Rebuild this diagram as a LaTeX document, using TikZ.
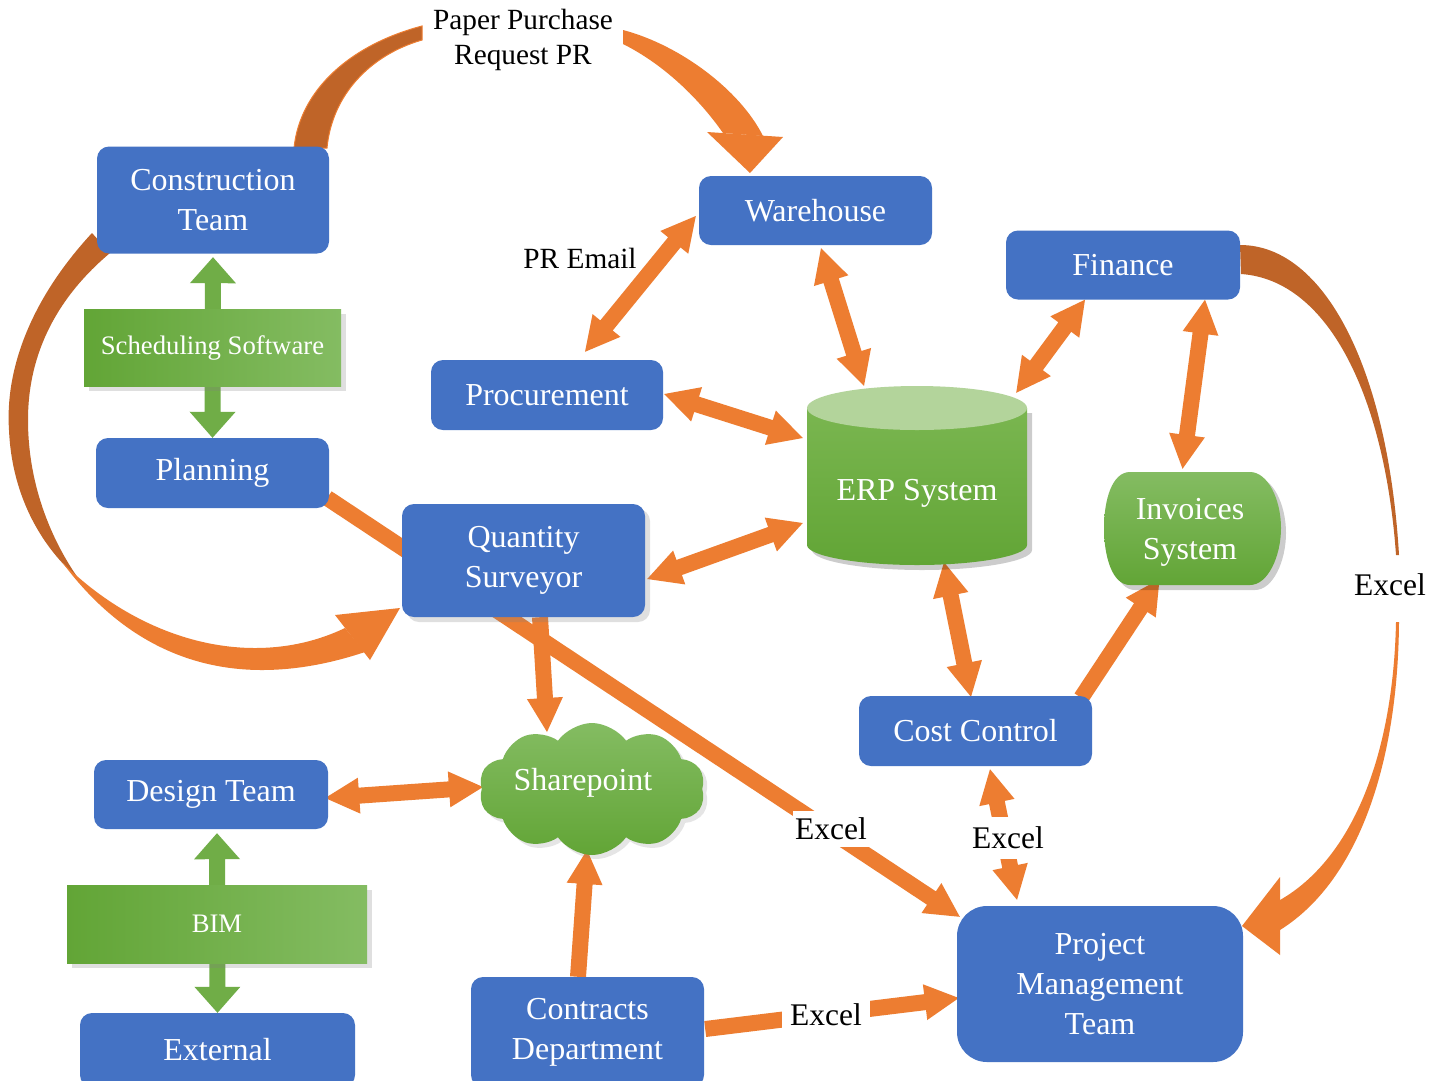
\documentclass[tikz,border=0pt]{standalone}
\usepackage{fontspec}
\setmainfont{Liberation Serif}
\usetikzlibrary{calc,shapes.symbols,shadows}
\definecolor{blu}{HTML}{4472C4}
\definecolor{org}{HTML}{ED7D31}
\definecolor{dorg}{HTML}{BF6428}
\definecolor{gdark}{HTML}{62A536}
\definecolor{glight}{HTML}{84BC62}
\definecolor{gmid}{HTML}{70AD47}
\definecolor{gtop}{HTML}{B3D49B}
\definecolor{gcyl}{HTML}{7AB650}
\pgfdeclarelayer{back}
\pgfdeclarelayer{bg}
\pgfsetlayers{back,bg,main}

\def\aw{8pt}\def\ah{18pt}\def\al{34pt}

\newcommand{\onearrow}[3][org]{%
  \coordinate (tmpB) at ($(#3)!\al!(#2)$);
  \fill[#1] ($(#2)!\aw!90:(#3)$) -- ($(tmpB)!\aw!90:(#3)$) -- ($(tmpB)!\ah!90:(#3)$) -- (#3)
    -- ($(tmpB)!\ah!-90:(#3)$) -- ($(tmpB)!\aw!-90:(#3)$) -- ($(#2)!\aw!-90:(#3)$) -- cycle;}

\newcommand{\twoarrow}[3][org]{%
  \coordinate (tmpA) at ($(#2)!\al!(#3)$);
  \coordinate (tmpB) at ($(#3)!\al!(#2)$);
  \fill[#1] (#2) -- ($(tmpA)!\ah!90:(#3)$) -- ($(tmpA)!\aw!90:(#3)$) -- ($(tmpB)!\aw!90:(#3)$)
    -- ($(tmpB)!\ah!90:(#3)$) -- (#3) -- ($(tmpB)!\ah!-90:(#3)$) -- ($(tmpB)!\aw!-90:(#3)$)
    -- ($(tmpA)!\aw!-90:(#3)$) -- ($(tmpA)!\ah!-90:(#3)$) -- cycle;}

\tikzset{
  box/.style={rectangle, rounded corners=12pt, fill=blu, text=white, align=center,
    inner sep=0pt, font=\fontsize{32}{40}\selectfont},
  gbox/.style={rectangle, left color=gdark, right color=glight, text=white, inner sep=0pt,
    font=\fontsize{26.7}{32}\selectfont,
    drop shadow={shadow xshift=5pt, shadow yshift=-5pt, opacity=0.25}},
  wtext/.style={text=white, align=center, inner sep=0pt, font=\fontsize{32}{40}\selectfont},
  lbl/.style={text=black, align=center, inner sep=2pt, font=\fontsize{31.5}{38}\selectfont},
  slbl/.style={text=black, align=center, inner sep=1pt, font=\fontsize{29.3}{35}\selectfont},
  shad/.style={fill=black, opacity=0.2},
}

\begin{document}
\begin{tikzpicture}[x=1pt, y=-1pt]
\useasboundingbox (0,0) rectangle (1445,1080);
\begin{pgfonlayer}{back}
  \fill[white] (0,0) rectangle (1445,1080);
\end{pgfonlayer}

% ---------- blue boxes ----------
\node[box, minimum width=232pt, minimum height=107pt] (ct) at (213,200) {Construction\\Team};
\node[box, minimum width=233pt, minimum height=69pt] (wh) at (815.5,210.5) {Warehouse};
\node[box, minimum width=234pt, minimum height=69pt] (fin) at (1123,265) {Finance};
\node[box, minimum width=232pt, minimum height=70pt] (proc) at (547,395) {Procurement};
\node[box, minimum width=233pt, minimum height=70pt] (plan) at (212.5,473) {Planning};
\node[box, minimum width=243pt, minimum height=113pt,
      drop shadow={shadow xshift=5pt, shadow yshift=-5pt, opacity=0.25}] (qs) at (523.5,560.5) {Quantity\\Surveyor};
\node[box, minimum width=233pt, minimum height=70pt] (cc) at (975.5,731) {Cost Control};
\node[box, minimum width=234pt, minimum height=69pt] (dt) at (211,794.5) {Design Team};
\node[box, minimum width=275pt, minimum height=74pt] (ext) at (217.5,1050) {External};
\node[box, minimum width=233pt, minimum height=110pt] (cd) at (587.5,1032) {Contracts\\Department};
\node[box, rounded corners=30pt, minimum width=286pt, minimum height=156pt] (pmt) at (1100,984) {Project\\Management\\Team};

% ---------- green boxes ----------
\node[gbox, minimum width=257pt, minimum height=77pt] (sched) at (212.5,347.5) {Scheduling Software};
\node[gbox, minimum width=300pt, minimum height=78pt] (bim) at (217,924) {BIM};

% ---------- ERP cylinder ----------
\fill[shad] (812,413) -- (812,550) .. controls (812,561) and (863,570) .. (922,570) .. controls (981,570) and (1032,561) .. (1032,550) -- (1032,413) -- cycle;
\shade[top color=gcyl, bottom color=gdark] (807,408) -- (807,545) .. controls (807,556) and (858,565) .. (917,565) .. controls (976,565) and (1027,556) .. (1027,545) -- (1027,408) -- cycle;
\fill[gtop] (917,408) ellipse [x radius=110pt, y radius=22pt];
\node[minimum width=220pt, minimum height=180pt, inner sep=0pt] (erp) at (917,475) {};
\node[wtext] (erptxt) at (917,493) {ERP System};

% ---------- Invoices ----------
\begin{scope}[shift={(5,5)}]
\fill[shad] (1130,472) -- (1250,472) .. controls (1268,472) and (1281,500) .. (1281,528) .. controls (1281,556) and (1268,585) .. (1250,585) -- (1130,585) .. controls (1112,585) and (1104,556) .. (1104,528) .. controls (1104,500) and (1112,472) .. (1130,472) -- cycle;
\end{scope}
\shade[top color=glight, bottom color=gdark] (1130,472) -- (1250,472) .. controls (1268,472) and (1281,500) .. (1281,528) .. controls (1281,556) and (1268,585) .. (1250,585) -- (1130,585) .. controls (1112,585) and (1104,556) .. (1104,528) .. controls (1104,500) and (1112,472) .. (1130,472) -- cycle;
\node[minimum width=177pt, minimum height=113pt, inner sep=0pt] (inv) at (1192.5,528.5) {};
\node[wtext] (invtxt) at (1190,532) {Invoices\\System};

% ---------- Sharepoint cloud ----------
\node[cloud, cloud puffs=10, cloud puff arc=110, aspect=1.8, minimum width=226pt, minimum height=132pt,
      top color=glight, bottom color=gdark,
      drop shadow={shadow xshift=4pt, shadow yshift=-4pt, opacity=0.2}] (sp) at (592,789) {};
\node[wtext] (sptxt) at (583,783) {Sharepoint};

% ---------- labels ----------
\node[slbl] (pprq) at (523,40) {Paper Purchase\\Request PR};
\node[slbl] (prmail) at (580,258) {PR Email};
\node[lbl, fill=white, inner xsep=2pt, inner ysep=7pt] (xl1) at (831,829) {Excel};
\node[lbl, fill=white, inner xsep=2pt, inner ysep=10pt] (xl2) at (1008,838) {Excel};
\node[lbl, fill=white, inner xsep=8pt, inner ysep=6pt] (xl3) at (826,1015) {Excel};
\node[lbl] (xl4) at (1390,585) {Excel};

% ---------- connectors ----------
\coordinate (a1) at ($(wh.west)+(-3,5.5)$);
\coordinate (a2) at ($(proc.north)+(38,-8)$);
\coordinate (b1) at ($(wh.south)+(5.5,3)$);
\coordinate (b2) at ($(erp.north)+(-53,1)$);
\coordinate (c1) at ($(proc.east)+(1,-1)$);
\coordinate (c2) at ($(erp.west)+(-4,-37)$);
\coordinate (d1) at ($(qs.east)+(2,18.5)$);
\coordinate (d2) at ($(erp.west)+(-4,48)$);
\coordinate (e1) at ($(fin.south)+(-38,0)$);
\coordinate (e2) at ($(erp.north east)+(-11,8)$);
\coordinate (f1) at ($(fin.south)+(82,0)$);
\coordinate (f2) at ($(inv.north)+(-10,-3)$);
\coordinate (g1) at ($(erp.south)+(27,-3)$);
\coordinate (g2) at ($(cc.north)+(-4.5,1)$);
\coordinate (h1) at ($(cc.north east)+(-11,2)$);
\coordinate (h2) at ($(inv.south)+(-33,-6)$);
\coordinate (i1) at ($(plan.east)+(-2,25)$);
\coordinate (i2) at ($(pmt.north west)+(3,11)$);
\coordinate (j1) at ($(qs.south)+(16.5,0)$);
\coordinate (j2) at ($(sp.center)+(-45,-57)$);
\coordinate (k1) at ($(dt.east)+(-3,3.5)$);
\coordinate (k2) at ($(sp.center)+(-109,-2)$);
\coordinate (l1) at ($(cd.north)+(-9.5,0)$);
\coordinate (l2) at ($(sp.center)+(-5,61)$);
\coordinate (m1) at ($(cd.east)+(1,-3)$);
\coordinate (m2) at ($(pmt.west)+(2,14)$);
\coordinate (n1) at ($(cc.south)+(14.5,3)$);
\coordinate (n2) at ($(pmt.north)+(-83,-6)$);
\coordinate (gr1) at ($(ct.south)+(0,3.5)$);
\coordinate (gr2) at (plan.north);
\coordinate (gr3) at ($(dt.south)+(6,4)$);
\coordinate (gr4) at (ext.north);

\begin{pgfonlayer}{bg}
  % curved arrows
  \fill[dorg, draw=org, line width=1pt] (294,148) .. controls (300,90) and (350,45) .. (422,26) -- (422,40) .. controls (370,55) and (332,95) .. (327,148) -- cycle;
  \fill[org] (623,30) .. controls (680,45) and (740,90) .. (763,136) -- (723,133) .. controls (700,100) and (665,65) .. (623,44) -- cycle;
  \fill[org] (707,132) -- (783,137) -- (750,173) -- cycle;

  \fill[dorg] (92,233) .. controls (30,300) and (5,370) .. (9,430) .. controls (12,500) and (45,550) .. (78,578) .. controls (55,545) and (28,490) .. (28,420) .. controls (28,350) and (60,295) .. (110,253) -- cycle;
  \fill[org] (62,562) .. controls (120,640) and (190,670) .. (262,670) .. controls (300,670) and (335,662) .. (365,652) -- (345,628) .. controls (320,640) and (290,648) .. (255,648) .. controls (185,648) and (115,615) .. (62,562) -- cycle;
  \fill[org] (335,615) -- (400,608) -- (370,660) -- cycle;

  \fill[dorg] (1240,245) .. controls (1325,245) and (1388,370) .. (1399,555) -- (1396,555) .. controls (1385,400) and (1330,280) .. (1241,274) -- cycle;
  \fill[org] (1399,622) .. controls (1398,760) and (1360,880) .. (1280,930) -- (1280,900) .. controls (1350,860) and (1393,760) .. (1396,622) -- cycle;
  \fill[org] (1280,877) -- (1242,926) -- (1280,955) -- cycle;

  % straight arrows
  \twoarrow{a1}{a2}
  \twoarrow{b1}{b2}
  \twoarrow{c1}{c2}
  \twoarrow{d1}{d2}
  \twoarrow{e1}{e2}
  \twoarrow{f1}{f2}
  \twoarrow{g1}{g2}
  \onearrow{h1}{h2}
  \onearrow{i1}{i2}
  \onearrow{j1}{j2}
  \twoarrow{k1}{k2}
  \onearrow{l1}{l2}
  \onearrow{m1}{m2}
  \twoarrow{n1}{n2}
  {\def\aw{8pt}\def\ah{23pt}\def\al{26pt}
   \twoarrow[gmid]{gr1}{gr2}
   \twoarrow[gmid]{gr3}{gr4}}
\end{pgfonlayer}
\end{tikzpicture}
\end{document}
